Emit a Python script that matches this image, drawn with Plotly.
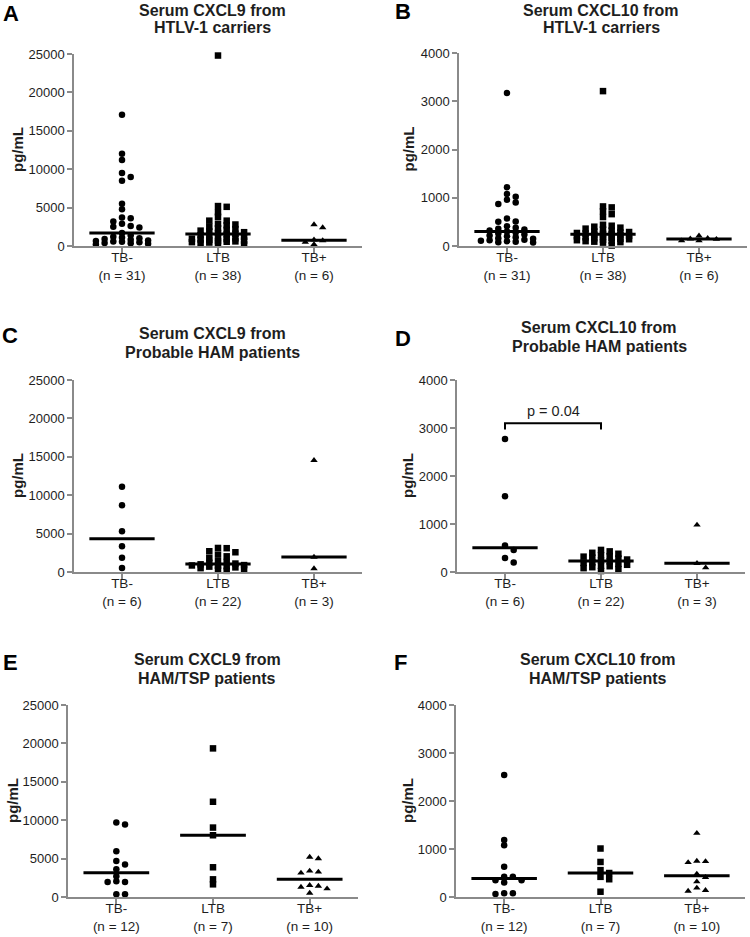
import numpy as np
import plotly.graph_objects as go

# ---------------- data (pg/mL) ----------------
categories = ["TB-", "LTB", "TB+"]

cxcl9_carriers_tbneg = [17100, 12000, 11200, 9500, 9000, 8500, 5500, 4800, 3700, 3600, 3200, 2900,
                        2600, 2500, 2400, 1700, 1400, 1200, 1100, 1000, 900, 800, 700, 650, 600, 550,
                        500, 400, 350, 300, 200]
cxcl9_carriers_ltb = [24800, 5200, 5100, 4400, 3800, 3300, 3300, 2900, 2800, 2700, 2500, 2300, 2200,
                      2100, 2000, 1900, 1800, 1700, 1600, 1500, 1400, 1300, 1200, 1100, 1000, 950, 900,
                      850, 800, 700, 650, 600, 550, 500, 450, 400, 300, 200]
cxcl9_carriers_tbpos = [2800, 2400, 800, 700, 500, 200]

cxcl10_carriers_tbneg = [3170, 1220, 1080, 1020, 960, 900, 870, 570, 510, 500, 410, 380, 360, 340, 320,
                         300, 280, 260, 240, 220, 200, 180, 160, 150, 130, 120, 110, 100, 90, 80, 70]
cxcl10_carriers_ltb = [3210, 820, 800, 720, 660, 600, 440, 420, 400, 380, 360, 340, 320, 300, 290, 280,
                       270, 260, 250, 240, 230, 220, 210, 200, 190, 180, 170, 160, 150, 140, 130, 120,
                       110, 100, 90, 80, 70, 10]
cxcl10_carriers_tbpos = [210, 160, 150, 140, 110, 110]

cxcl9_probable_tbneg = [11100, 8700, 5300, 3350, 1850, 520]
cxcl9_probable_ltb = [3130, 3100, 2700, 2570, 2260, 2040, 1830, 1400, 1300, 1200, 1100,
                      1000, 900, 850, 800, 750, 700, 600, 500, 400, 300, 150]
cxcl9_probable_tbpos = [14550, 1950, 450]

cxcl10_probable_tbneg = [2770, 1580, 550, 460, 290, 200]
cxcl10_probable_ltb = [460, 430, 400, 380, 350, 330, 320, 300, 280, 260, 240,
                       220, 200, 190, 170, 150, 130, 120, 100, 80, 60, 20]
cxcl10_probable_tbpos = [980, 180, 90]

cxcl9_hamtsp_tbneg = [9700, 9430, 5960, 4700, 4220, 3600, 2700, 2040, 1960, 1960, 350, 350]
cxcl9_hamtsp_ltb = [19350, 12400, 9040, 8040, 3870, 2300, 1650]
cxcl9_hamtsp_tbpos = [5200, 5000, 3390, 3260, 3130, 1520, 1430, 1300, 1090, 520]

cxcl10_hamtsp_tbneg = [2540, 1190, 1080, 630, 420, 420, 350, 350, 300, 80, 60, 80]
cxcl10_hamtsp_ltb = [1010, 730, 560, 500, 420, 370, 110]
cxcl10_hamtsp_tbpos = [1330, 750, 740, 720, 480, 410, 320, 190, 140, 125]

p_value_text = "p = 0.04"
bracket_level = 3100
bracket_drop = 2970

cxcl9_ticks = [0, 5000, 10000, 15000, 20000, 25000]
cxcl10_ticks = [0, 1000, 2000, 3000, 4000]

# ---------------- layout constants ----------------
W, H = 750, 937
AX = "#8a8a8a"
TXT = "#1e1e1e"
FONT = "Liberation Sans, Arial, sans-serif"


def px(X):
    return X / W


def py(Y):
    return 1 - Y / H


panels = [
    dict(letter="A", title=("Serum CXCL9 from", "HTLV-1 carriers"),
         groups=[cxcl9_carriers_tbneg, cxcl9_carriers_ltb, cxcl9_carriers_tbpos],
         ticks=cxcl9_ticks, box=(74, 362, 54, 246), tx=212, ty=(10, 27), lpos=(11, 13), ypx=17),
    dict(letter="B", title=("Serum CXCL10 from", "HTLV-1 carriers"),
         groups=[cxcl10_carriers_tbneg, cxcl10_carriers_ltb, cxcl10_carriers_tbpos],
         ticks=cxcl10_ticks, box=(459, 747, 53, 246), tx=601, ty=(10, 27), lpos=(403, 12), ypx=408),
    dict(letter="C", title=("Serum CXCL9 from", "Probable HAM patients"),
         groups=[cxcl9_probable_tbneg, cxcl9_probable_ltb, cxcl9_probable_tbpos],
         ticks=cxcl9_ticks, box=(74, 362, 380, 572), tx=212, ty=(333, 352), lpos=(10, 335), ypx=17),
    dict(letter="D", title=("Serum CXCL10 from", "Probable HAM patients"),
         groups=[cxcl10_probable_tbneg, cxcl10_probable_ltb, cxcl10_probable_tbpos],
         ticks=cxcl10_ticks, box=(457, 745, 380, 572), tx=599, ty=(328, 346), lpos=(403, 338), ypx=407),
    dict(letter="E", title=("Serum CXCL9 from", "HAM/TSP patients"),
         groups=[cxcl9_hamtsp_tbneg, cxcl9_hamtsp_ltb, cxcl9_hamtsp_tbpos],
         ticks=cxcl9_ticks, box=(68, 358, 705, 897), tx=207, ty=(659, 678), lpos=(10, 662), ypx=12),
    dict(letter="F", title=("Serum CXCL10 from", "HAM/TSP patients"),
         groups=[cxcl10_hamtsp_tbneg, cxcl10_hamtsp_ltb, cxcl10_hamtsp_tbpos],
         ticks=cxcl10_ticks, box=(456, 745, 705, 897), tx=598, ty=(659, 678), lpos=(400, 662), ypx=407),
]
symbols = ["circle", "square", "triangle-up"]


def swarm(vals, px_per_y, px_per_x, step_px=8.7, diam_px=4.5, max_col=3):
    """Compact beeswarm: column offsets so markers overlap as little as possible."""
    vals = np.asarray(vals, dtype=float)
    order = np.argsort(-vals, kind="stable")
    placed = {}
    offs = np.zeros(len(vals))
    cand = [0]
    for k in range(1, max_col + 1):
        cand += [k, -k]
    for i in order:
        ypix = vals[i] * px_per_y
        best, best_gap = None, -1.0
        for c in cand:
            gaps = [abs(ypix - yy) for yy in placed.get(c, [])]
            gap = min(gaps) if gaps else 1e9
            if gap >= diam_px:
                best = c
                break
            if gap > best_gap + 0.5:
                best, best_gap = c, gap
        placed.setdefault(best, []).append(ypix)
        offs[i] = best * step_px / px_per_x
    return offs


fig = go.Figure()
layout = dict(width=W, height=H, margin=dict(l=0, r=0, t=0, b=0),
              paper_bgcolor="white", plot_bgcolor="white", showlegend=False,
              font=dict(family=FONT, color=TXT), template="none")
annotations = []

for k, p in enumerate(panels, start=1):
    x0, x1, y0, y1 = p["box"]
    sfx = "" if k == 1 else str(k)
    xref, yref = "x" + sfx, "y" + sfx
    ymax = p["ticks"][-1]
    px_per_y = (y1 - y0) / ymax
    px_per_x = (x1 - x0) / 3.0
    ticktext = [f"{c}<br>(n = {len(g)})" for c, g in zip(categories, p["groups"])]

    layout["xaxis" + sfx] = dict(domain=[px(x0), px(x1)], range=[-0.5, 2.5], anchor=yref,
                                 showline=True, linecolor=AX, linewidth=1.5, mirror=False,
                                 ticks="outside", ticklen=5, tickwidth=1.5, tickcolor=AX,
                                 tickvals=[0, 1, 2], ticktext=ticktext, ticklabelstandoff=-7,
                                 tickfont=dict(size=13.5, color=TXT, family=FONT),
                                 showgrid=False, zeroline=False, automargin=False, fixedrange=True)
    layout["yaxis" + sfx] = dict(domain=[py(y1), py(y0)], range=[0, ymax], anchor=xref,
                                 showline=True, linecolor=AX, linewidth=1.5,
                                 ticks="outside", ticklen=5, tickwidth=1.5, tickcolor=AX,
                                 tickvals=p["ticks"], tickformat="d",
                                 tickfont=dict(size=13, color=TXT, family=FONT),
                                 showgrid=False, zeroline=False, automargin=False, fixedrange=True)

    for gi, (vals, sym) in enumerate(zip(p["groups"], symbols)):
        offs = swarm(vals, px_per_y, px_per_x)
        fig.add_trace(go.Scatter(x=gi + offs, y=vals, mode="markers", xaxis=xref, yaxis=yref,
                                 marker=dict(symbol=sym, size=6.5, color="black", line=dict(width=0)),
                                 cliponaxis=False, hoverinfo="y"))
        med = float(np.median(vals))
        fig.add_trace(go.Scatter(x=[gi - 0.34, gi + 0.34], y=[med, med], mode="lines",
                                 xaxis=xref, yaxis=yref, line=dict(color="black", width=3),
                                 cliponaxis=False, hoverinfo="skip"))

    if p["letter"] == "D":
        fig.add_trace(go.Scatter(x=[0, 0, 1, 1], y=[bracket_drop, bracket_level, bracket_level, bracket_drop],
                                 mode="lines", xaxis=xref, yaxis=yref,
                                 line=dict(color="black", width=2), hoverinfo="skip"))
        annotations.append(dict(x=0.5, y=bracket_level, xref=xref, yref=yref, text=p_value_text,
                                showarrow=False, yanchor="bottom", yshift=2,
                                font=dict(size=14.5, color=TXT, family=FONT)))

    for line_text, ty in zip(p["title"], p["ty"]):
        annotations.append(dict(x=px(p["tx"]), y=py(ty), xref="paper", yref="paper",
                                text="<b>" + line_text + "</b>", showarrow=False,
                                xanchor="center", yanchor="middle",
                                font=dict(size=16, color=TXT, family=FONT)))
    annotations.append(dict(x=px(p["lpos"][0]), y=py(p["lpos"][1]), xref="paper", yref="paper",
                            text="<b>" + p["letter"] + "</b>", showarrow=False,
                            xanchor="center", yanchor="middle",
                            font=dict(size=22, color="black", family=FONT)))
    annotations.append(dict(x=px(p["ypx"]), y=py((y0 + y1) / 2), xref="paper", yref="paper",
                            text="<b>pg/mL</b>", showarrow=False, textangle=-90,
                            xanchor="center", yanchor="middle",
                            font=dict(size=15, color=TXT, family=FONT)))

layout["annotations"] = annotations
fig.update_layout(**layout)
fig.write_html("out.html", config={"displayModeBar": False},
               post_script="document.body.style.margin='0px';")
